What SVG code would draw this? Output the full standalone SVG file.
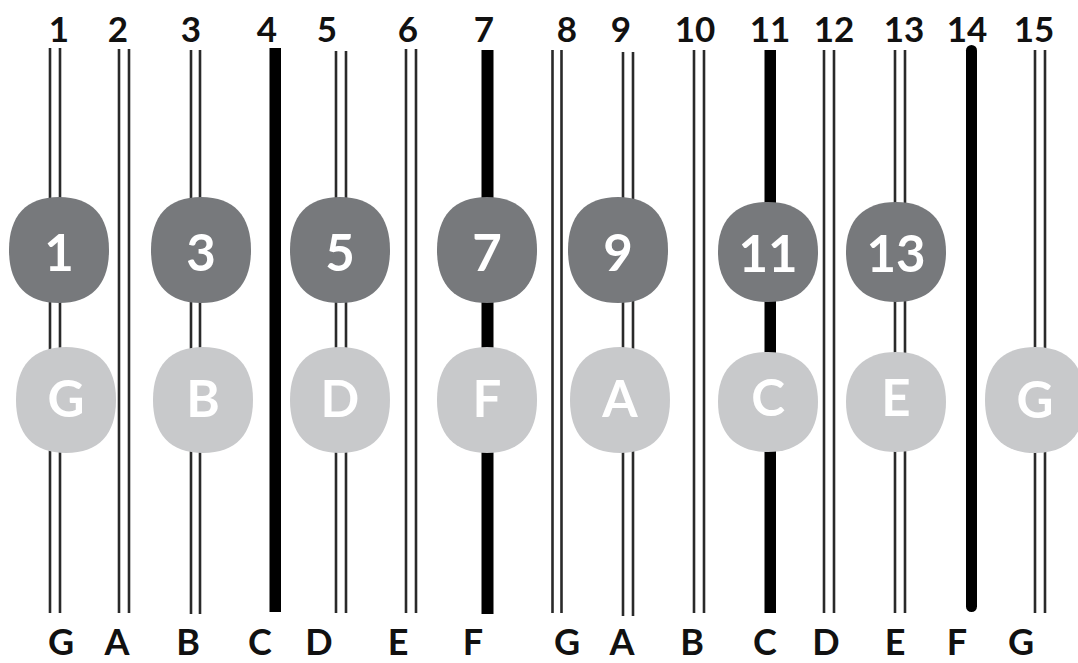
<svg xmlns="http://www.w3.org/2000/svg" xmlns:xlink="http://www.w3.org/1999/xlink" width="1078" height="663" viewBox="0 0 1078 663">
<style>
.s{stroke:#2a2a2a;stroke-width:2.6;fill:none}
.b{fill:#000}
.num{font-family:Lato,"Open Sans","Liberation Sans",sans-serif;font-weight:bold;font-size:35px;fill:#111;text-anchor:middle}
.note{font-family:Lato,"Open Sans","Liberation Sans",sans-serif;font-weight:bold;font-size:36px;fill:#111;text-anchor:middle}
.dk{fill:#77797c}
.lt{fill:#c8c9cb}
.ct{font-family:Lato,"Open Sans","Liberation Sans",sans-serif;font-weight:bold;font-size:51px;fill:#fff;text-anchor:middle}
</style>
<defs>
<path id="sq" d="M50 0C50 34,33 53,0 53C-33 53,-50 34,-50 0C-50 -34,-33 -53,0 -53C33 -53,50 -34,50 0Z"/>
<path id="sq2" d="M50 0C50 32,32 50,0 50C-32 50,-50 32,-50 0C-50 -32,-32 -50,0 -50C32 -50,50 -32,50 0Z"/>
</defs>
<rect width="1078" height="663" fill="#fff"/>
<g id="strings">
<path class="s" d="M50 48V613M60 48V613"/>
<path class="s" d="M119 49V613M129 49V613"/>
<path class="s" d="M191 50V614M200 50V614"/>
<rect class="b" x="269.5" y="48" width="11.5" height="564"/>
<path class="s" d="M336 51V613M346 51V613"/>
<path class="s" d="M406 49V613M416 49V613"/>
<rect class="b" x="481.5" y="50" width="12" height="564"/>
<path class="s" d="M552.5 50V613M561.5 50V613"/>
<path class="s" d="M623 52V616M633 52V616"/>
<path class="s" d="M694 50V613M704 50V613"/>
<rect class="b" x="764.5" y="50" width="11.5" height="563"/>
<path class="s" d="M824 50V613M834 50V613"/>
<path class="s" d="M895 50V613M905 50V613"/>
<rect class="b" x="966" y="45" width="11" height="567" rx="5.5"/>
<path class="s" d="M1035 50V613M1045 50V613"/>
</g>
<g id="string-numbers">
<text class="num" x="59" y="42">1</text>
<text class="num" x="118" y="42">2</text>
<text class="num" x="191" y="42">3</text>
<text class="num" x="267" y="42">4</text>
<text class="num" x="327" y="42">5</text>
<text class="num" x="408" y="42">6</text>
<text class="num" x="484" y="42">7</text>
<text class="num" x="567" y="42">8</text>
<text class="num" x="621" y="42">9</text>
<text class="num" x="695" y="42">10</text>
<text class="num" x="770" y="42">11</text>
<text class="num" x="834" y="42">12</text>
<text class="num" x="904" y="42">13</text>
<text class="num" x="967" y="42">14</text>
<text class="num" x="1034" y="42">15</text>
</g>
<g id="string-notes">
<text class="note" x="61" y="655">G</text>
<text class="note" x="117" y="655">A</text>
<text class="note" x="188" y="655">B</text>
<text class="note" x="260" y="655">C</text>
<text class="note" x="319" y="655">D</text>
<text class="note" x="398" y="655">E</text>
<text class="note" x="473" y="655">F</text>
<text class="note" x="567" y="655">G</text>
<text class="note" x="622" y="655">A</text>
<text class="note" x="692" y="655">B</text>
<text class="note" x="765" y="655">C</text>
<text class="note" x="826" y="655">D</text>
<text class="note" x="895" y="655">E</text>
<text class="note" x="957" y="655">F</text>
<text class="note" x="1021" y="655">G</text>
</g>
<g id="n1"><use xlink:href="#sq" class="dk" x="59" y="250"/><text class="ct" x="59" y="271">1</text></g>
<g id="n3"><use xlink:href="#sq" class="dk" x="201" y="250"/><text class="ct" x="201" y="271">3</text></g>
<g id="n5"><use xlink:href="#sq" class="dk" x="340" y="250"/><text class="ct" x="340" y="271">5</text></g>
<g id="n7"><use xlink:href="#sq" class="dk" x="487" y="250"/><text class="ct" x="487" y="271">7</text></g>
<g id="n9"><use xlink:href="#sq" class="dk" x="618" y="250"/><text class="ct" x="618" y="271">9</text></g>
<g id="n11"><use xlink:href="#sq2" class="dk" x="768" y="252"/><text class="ct" x="768" y="272">11</text></g>
<g id="n13"><use xlink:href="#sq2" class="dk" x="896" y="252"/><text class="ct" x="896" y="272">13</text></g>
<g id="nG1"><use xlink:href="#sq" class="lt" x="66" y="400"/><text class="ct" x="66" y="417">G</text></g>
<g id="nB"><use xlink:href="#sq" class="lt" x="203" y="400"/><text class="ct" x="203" y="417">B</text></g>
<g id="nD"><use xlink:href="#sq" class="lt" x="340" y="400"/><text class="ct" x="340" y="417">D</text></g>
<g id="nF"><use xlink:href="#sq" class="lt" x="487" y="400"/><text class="ct" x="487" y="417">F</text></g>
<g id="nA"><use xlink:href="#sq" class="lt" x="620" y="400"/><text class="ct" x="620" y="417">A</text></g>
<g id="nC"><use xlink:href="#sq2" class="lt" x="768" y="402"/><text class="ct" x="768" y="416">C</text></g>
<g id="nE"><use xlink:href="#sq2" class="lt" x="896" y="402"/><text class="ct" x="896" y="416">E</text></g>
<g id="nG2"><use xlink:href="#sq" class="lt" x="1035" y="400"/><text class="ct" x="1035" y="418">G</text></g>
</svg>
